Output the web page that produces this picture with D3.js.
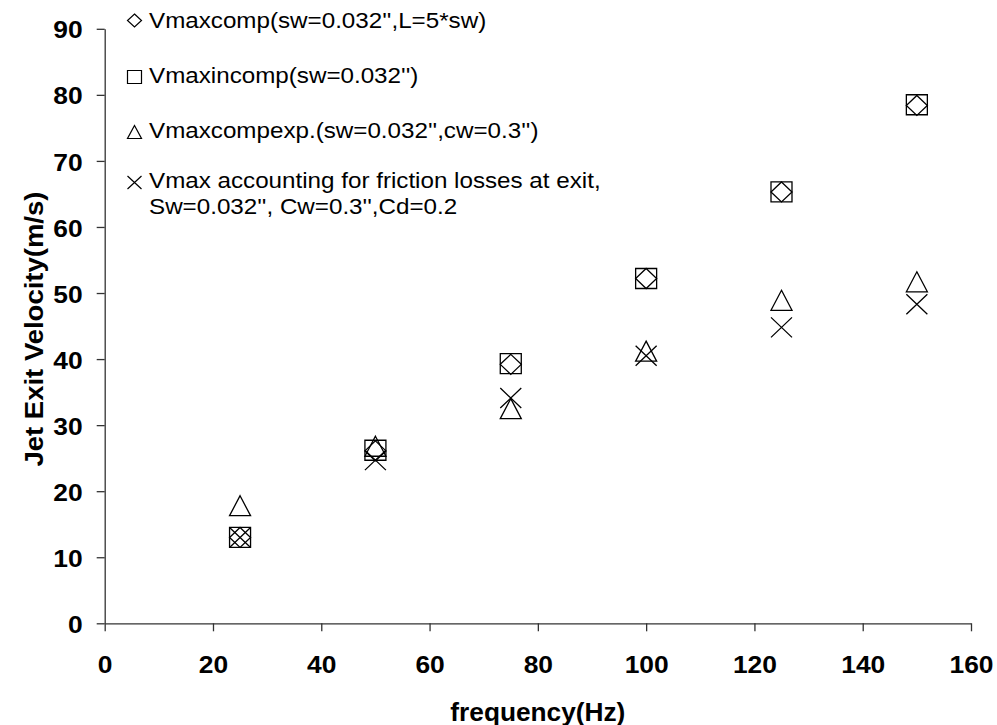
<!DOCTYPE html>
<html>
<head>
<meta charset="utf-8">
<script src="https://cdn.jsdelivr.net/npm/d3@7"></script>
<style>
  html, body { margin: 0; padding: 0; background: #fff; }
  svg { display: block; font-family: Arial, "Liberation Sans", sans-serif; }
</style>
</head>
<body>
<svg id="chart" width="997" height="725"></svg>
<script>
// Jet exit velocity versus actuation frequency
const frequency = [25, 50, 75, 100, 125, 150];
const vmaxComp = [13.0, 26.1, 39.2, 52.2, 65.3, 78.4];
const vmaxIncomp = [13.0, 26.2, 39.3, 52.2, 65.3, 78.5];
const vmaxCompExp = [17.8, 26.8, 32.5, 41.2, 48.9, 51.7];
const vmaxFriction = [13.0, 24.7, 34.1, 40.5, 44.8, 48.3];

const xTicks = [0, 20, 40, 60, 80, 100, 120, 140, 160];
const yTicks = [0, 10, 20, 30, 40, 50, 60, 70, 80, 90];

const seriesNames = ["diamond", "square", "triangle", "cross"];
const legendLines = [
  ["Vmaxcomp(sw=0.032'',L=5*sw)"],
  ["Vmaxincomp(sw=0.032'')"],
  ["Vmaxcompexp.(sw=0.032'',cw=0.3'')"],
  ["Vmax accounting for friction losses at exit,", "Sw=0.032'', Cw=0.3'',Cd=0.2"]
];
const xTitle = "frequency(Hz)";
const yTitle = "Jet Exit Velocity(m/s)";

const svg = d3.select("#chart");
const x = d3.scaleLinear().domain([0, 160]).range([104.7, 971]);
const y = d3.scaleLinear().domain([0, 90]).range([623.3, 28.8]);

const ink = "#000";
const axisInk = "#333";
const textStretch = 1.1;

// axes
const gx = svg.append("g")
  .attr("transform", `translate(0,${y(0)})`)
  .call(d3.axisBottom(x).tickValues(xTicks).tickSize(8).tickSizeOuter(0).tickFormat(d3.format("d")));
const gy = svg.append("g")
  .attr("transform", `translate(${x(0)},0)`)
  .call(d3.axisLeft(y).tickValues(yTicks).tickSize(8).tickSizeOuter(0).tickFormat(d3.format("d")));

[gx, gy].forEach(g => {
  g.select(".domain").attr("stroke", axisInk).attr("stroke-width", 1.3);
  g.selectAll(".tick line").attr("stroke", axisInk).attr("stroke-width", 1.3);
  g.selectAll(".tick text")
    .attr("fill", ink)
    .attr("font-family", 'Arial, "Liberation Sans", sans-serif')
    .attr("font-size", 24)
    .attr("font-weight", "bold");
});
gx.selectAll(".tick text").attr("y", 33).attr("dy", "0.71em")
  .attr("transform", `scale(${textStretch},1)`);
gy.selectAll(".tick text").attr("x", -22 / textStretch).attr("dy", "0.38em")
  .attr("transform", `scale(${textStretch},1)`);

// axis titles
svg.append("text")
  .attr("transform", `translate(${(x(0) + x(160)) / 2},721) scale(1.05,1)`)
  .attr("text-anchor", "middle")
  .attr("font-size", 25).attr("font-weight", "bold").attr("fill", ink)
  .text(xTitle);
svg.append("text")
  .attr("transform", `translate(42.5,${(y(0) + y(90)) / 2 + 3}) rotate(-90) scale(1.1,1)`)
  .attr("text-anchor", "middle")
  .attr("font-size", 25).attr("font-weight", "bold").attr("fill", ink)
  .text(yTitle);

// marker shapes, drawn in a box of half-width w and half-height h
function markerPath(kind, cx, cy, w, h) {
  const p = d3.path();
  if (kind === "square") {
    p.rect(cx - w, cy - h, 2 * w, 2 * h);
  } else if (kind === "diamond") {
    p.moveTo(cx, cy - h); p.lineTo(cx + w, cy); p.lineTo(cx, cy + h); p.lineTo(cx - w, cy); p.closePath();
  } else if (kind === "triangle") {
    p.moveTo(cx, cy - h); p.lineTo(cx + w, cy + h); p.lineTo(cx - w, cy + h); p.closePath();
  } else {
    p.moveTo(cx - w, cy - h); p.lineTo(cx + w, cy + h);
    p.moveTo(cx + w, cy - h); p.lineTo(cx - w, cy + h);
  }
  return p.toString();
}

const series = [
  { kind: "diamond", values: vmaxComp },
  { kind: "square", values: vmaxIncomp },
  { kind: "triangle", values: vmaxCompExp },
  { kind: "cross", values: vmaxFriction }
];

const plot = svg.append("g");
series.forEach(s => {
  plot.selectAll(null)
    .data(frequency.map((f, i) => ({ f, v: s.values[i] })))
    .join("path")
    .attr("d", d => markerPath(s.kind, x(d.f), y(d.v), 10.5, 10))
    .attr("fill", "none")
    .attr("stroke", ink)
    .attr("stroke-width", 1.3);
});

// legend
const legendRows = [
  { cy: 20.5, baselines: [28.3] },
  { cy: 77, baselines: [83.3] },
  { cy: 132, baselines: [138.3] },
  { cy: 182.5, baselines: [187.5, 214.3] }
];
const legend = svg.append("g");
legendRows.forEach((row, i) => {
  legend.append("path")
    .attr("d", markerPath(seriesNames[i], 134.5, row.cy, 7, 6.5))
    .attr("fill", "none").attr("stroke", ink).attr("stroke-width", 1.2);
  legendLines[i].forEach((line, j) => {
    legend.append("text")
      .attr("transform", `translate(149,${row.baselines[j]}) scale(1.1,1)`)
      .attr("font-size", 22).attr("fill", ink)
      .text(line);
  });
});
</script>
</body>
</html>
